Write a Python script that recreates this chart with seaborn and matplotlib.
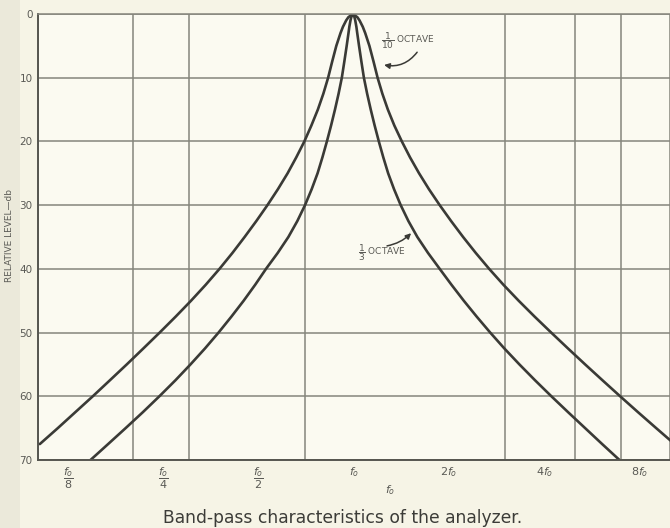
import matplotlib
matplotlib.use("Agg")
import matplotlib.pyplot as plt
import numpy as np
import pandas as pd
import seaborn as sns
from matplotlib.ticker import NullFormatter, FixedLocator
from matplotlib.patches import Rectangle

# ---- data: level (dB) and distance from the peak in octaves, read per side ----
peak_offset = -0.012   # peak sits a hair below f0 (octaves)

wide_levels = [0, 0.5, 1, 2, 3, 5, 7.5, 10, 12.5, 15, 17.5, 20, 22.5, 25, 27.5, 30,
               32.5, 35, 37.5, 40, 42.5, 45, 47.5, 50, 52.5, 55, 57.5, 60, 62.5, 65, 67.5]
wide_left = [0, 0.047, 0.070, 0.104, 0.130, 0.174, 0.218, 0.260, 0.310, 0.368, 0.436, 0.510,
             0.595, 0.686, 0.788, 0.898, 1.015, 1.138, 1.266, 1.402, 1.547, 1.701, 1.863,
             2.031, 2.203, 2.377, 2.555, 2.734, 2.918, 3.102, 3.291]
wide_right = [0, 0.047, 0.070, 0.104, 0.130, 0.174, 0.218, 0.260, 0.310, 0.368, 0.436, 0.515,
              0.601, 0.696, 0.800, 0.913, 1.033, 1.159, 1.292, 1.433, 1.583, 1.743, 1.911,
              2.085, 2.262, 2.442, 2.625, 2.810, 2.998, 3.189, 3.382]

narrow_levels = [0, 0.5, 1, 2, 3, 5, 7.5, 10, 12.5, 15, 17.5, 20, 22.5, 25, 27.5, 30,
                 32.5, 35, 37.5, 40, 42.5, 45, 47.5, 50, 52.5, 55, 57.5, 60, 62.5, 65, 67.5, 70]
narrow_left = [0, 0.017, 0.025, 0.037, 0.046, 0.065, 0.090, 0.116, 0.150, 0.188, 0.229,
               0.273, 0.320, 0.371, 0.433, 0.503, 0.584, 0.678, 0.790, 0.913, 1.027, 1.148,
               1.277, 1.412, 1.555, 1.707, 1.866, 2.034, 2.208, 2.389, 2.573, 2.758]
narrow_right = [0, 0.017, 0.025, 0.037, 0.046, 0.065, 0.090, 0.116, 0.150, 0.188, 0.229,
                0.273, 0.320, 0.371, 0.433, 0.503, 0.584, 0.678, 0.790, 0.913, 1.037, 1.166,
                1.302, 1.444, 1.593, 1.751, 1.916, 2.087, 2.263, 2.442, 2.621, 2.803]

grid_ratios = [0.1, 0.2, 0.3, 0.5, 0.7, 1, 2, 3, 5, 7, 10]
tick_ratios = [0.125, 0.25, 0.5, 1, 2, 4, 8]
tick_labels = [r"$\dfrac{f_o}{8}$", r"$\dfrac{f_o}{4}$", r"$\dfrac{f_o}{2}$",
               r"$f_o$", r"$2f_o$", r"$4f_o$", r"$8f_o$"]
level_ticks = [0, 10, 20, 30, 40, 50, 60, 70]


def curve_frame(levels, left, right, name):
    octs = [peak_offset - v for v in left[::-1]] + [peak_offset + v for v in right[1:]]
    lv = list(levels[::-1]) + list(levels[1:])
    return pd.DataFrame({"ratio": 2.0 ** np.array(octs), "level": lv, "curve": name})


df = pd.concat([
    curve_frame(wide_levels, wide_left, wide_right, "1/10 octave"),
    curve_frame(narrow_levels, narrow_left, narrow_right, "1/3 octave"),
], ignore_index=True)

sns.set_style("white")
plt.rcParams["font.family"] = ["DejaVu Sans"]

paper = "#f6f4e6"
inner_bg = "#fbfaf1"
ink = "#3a3a36"
grid_c = "#85857c"
text_c = "#5a5a55"

fig = plt.figure(figsize=(6.7, 5.28), dpi=100, facecolor=paper)
fig.patches.append(Rectangle((0, 0), 0.03, 1, transform=fig.transFigure,
                             facecolor="#ebe9da", edgecolor="none", zorder=0))
ax = fig.add_axes([38 / 670, 1 - 460 / 528, 632 / 670, (460 - 14) / 528])
ax.set_facecolor(inner_bg)

sns.lineplot(data=df, x="ratio", y="level", hue="curve", palette=[ink, ink],
             estimator=None, sort=False, legend=False, linewidth=1.9, ax=ax)
for ln in ax.get_lines():
    ln.set_solid_joinstyle("round")

ax.set_xscale("log")
ax.set_xlim(0.1, 10)
ax.set_ylim(70, 0)

ax.set_xticks(tick_ratios)
ax.set_xticklabels(tick_labels, fontsize=8, color=text_c, va="top")
ax.xaxis.set_minor_locator(FixedLocator(grid_ratios))
ax.xaxis.set_minor_formatter(NullFormatter())
ax.tick_params(axis="x", which="both", length=0, pad=4)
ax.grid(False)
ax.xaxis.grid(True, which="minor", color=grid_c, linewidth=1.1)

ax.set_yticks(level_ticks)
ax.set_yticklabels([str(v) for v in level_ticks], fontsize=7.5, color=text_c)
ax.tick_params(axis="y", length=3, width=1, color=grid_c, pad=1)
ax.yaxis.grid(True, which="major", color=grid_c, linewidth=1.1)

ax.set_xlabel("")
ax.set_ylabel("")
for s in ["left", "bottom"]:
    ax.spines[s].set_color("#55554f")
    ax.spines[s].set_linewidth(1.4)
ax.spines["top"].set_color(grid_c)
ax.spines["top"].set_linewidth(1.1)
ax.spines["right"].set_visible(False)

# annotations
ax.text(1.215, 4.2, r"$\dfrac{1}{10}$ OCTAVE", fontsize=6.5, color=text_c, ha="left", va="center")
ax.annotate("", xy=(1.245, 8.0), xytext=(1.584, 6.0),
            arrowprops=dict(arrowstyle="-|>", color=ink, lw=1.1, mutation_scale=8,
                            connectionstyle="arc3,rad=-0.3", shrinkA=0, shrinkB=0))
ax.text(1.03, 37.4, r"$\dfrac{1}{3}$ OCTAVE", fontsize=6.5, color=text_c, ha="left", va="center")
ax.annotate("", xy=(1.516, 34.4), xytext=(1.272, 36.4),
            arrowprops=dict(arrowstyle="-|>", color=ink, lw=1.1, mutation_scale=8,
                            connectionstyle="arc3,rad=0.15", shrinkA=0, shrinkB=0))

fig.text(10 / 670, 1 - 235 / 528, "RELATIVE LEVEL\u2014db", rotation=90, fontsize=6.5,
         color=text_c, ha="center", va="center")
fig.text(390 / 670, 1 - 490 / 528, r"$f_o$", fontsize=8, color=text_c, ha="center", va="center")
fig.text(343 / 670, 1 - 518 / 528, "Band-pass characteristics of the analyzer.",
         fontsize=12.3, color="#3c3c38", ha="center", va="center")

fig.savefig("out.png", dpi=100, facecolor=paper)
